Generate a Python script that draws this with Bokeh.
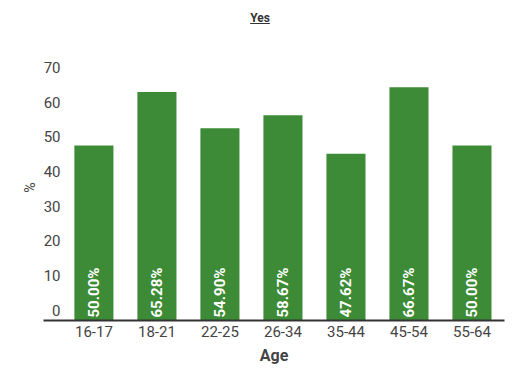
import math
from bokeh.plotting import figure
from bokeh.models import Range1d, LinearAxis, FixedTicker, ColumnDataSource, Div
from bokeh.layouts import column
from bokeh.core.properties import value
from bokeh.embed import file_html
from bokeh.resources import INLINE

title_text = "Yes"
categories = ["16-17", "18-21", "22-25", "26-34", "35-44", "45-54", "55-64"]
values = [50.00, 65.28, 54.90, 58.67, 47.62, 66.67, 50.00]
bar_labels = [f"{v:.2f}%" for v in values]
y_ticks = [0, 10, 20, 30, 40, 50, 60, 70]
x_title = "Age"
y_title = "%"

FONT = "Roboto"
GREEN = "#3d8b37"
TEXT = "#444444"

positions = list(range(len(categories)))
src = ColumnDataSource(dict(x=positions, top=values, lab=bar_labels, zero=[0] * len(values)))

y_max = 76.0
# tick labels are drawn a little above their nominal level, as in the original
label_range = Range1d(-3.03, 73.84)

p = figure(width=520, height=348, output_backend="svg", toolbar_location=None,
           x_range=Range1d(-0.80, 6.516), y_range=Range1d(0, y_max),
           y_axis_location=None, min_border_left=43, min_border_right=16,
           min_border_top=24, min_border_bottom=58)
p.outline_line_color = None
p.grid.visible = False
p.background_fill_color = "white"
p.border_fill_color = "white"

p.vbar(x="x", top="top", width=0.62, source=src, fill_color=GREEN, line_color=None)
p.text(x="x", y="zero", text="lab", source=src, angle=math.pi / 2,
       text_align="left", text_baseline="middle", y_offset=-3,
       text_color="white", text_font=value(FONT), text_font_size="15px",
       text_font_style="bold")

xa = p.xaxis[0]
xa.ticker = FixedTicker(ticks=positions)
xa.major_label_overrides = {i: c for i, c in zip(positions, categories)}
xa.axis_label = x_title
xa.axis_label_text_font = FONT
xa.axis_label_text_font_size = "16px"
xa.axis_label_text_font_style = "bold"
xa.axis_label_text_color = TEXT
xa.axis_label_standoff = 6
xa.major_label_text_font = FONT
xa.major_label_text_font_size = "15px"
xa.major_label_text_color = TEXT
xa.major_label_standoff = 5
xa.major_tick_out = 0
xa.major_tick_in = 0
xa.minor_tick_out = 0
xa.minor_tick_in = 0
xa.axis_line_color = "#333333"
xa.axis_line_width = 2

p.extra_y_ranges = {"lab": label_range}
ya = LinearAxis(y_range_name="lab", ticker=FixedTicker(ticks=y_ticks), axis_label=y_title)
ya.axis_line_color = None
ya.major_tick_out = 0
ya.major_tick_in = 0
ya.minor_tick_out = 0
ya.minor_tick_in = 0
ya.major_label_standoff = -17
ya.major_label_text_font = FONT
ya.major_label_text_font_size = "15px"
ya.major_label_text_color = TEXT
ya.axis_label_text_font = FONT
ya.axis_label_text_font_size = "14px"
ya.axis_label_text_font_style = "normal"
ya.axis_label_text_color = TEXT
ya.axis_label_standoff = 3
p.add_layout(ya, "left")

div = Div(text=f"<span style='text-decoration:underline;font-weight:bold;'>{title_text}</span>",
          width=520, height=30, margin=(0, 0, 0, 0),
          styles={"text-align": "center", "font-family": FONT, "font-size": "12px",
                  "color": "#333333", "padding-top": "10px", "width": "520px"})

layout = column(div, p, spacing=0, margin=(0, 0, 0, 0))
open("out.html", "w").write(file_html(layout, INLINE))
